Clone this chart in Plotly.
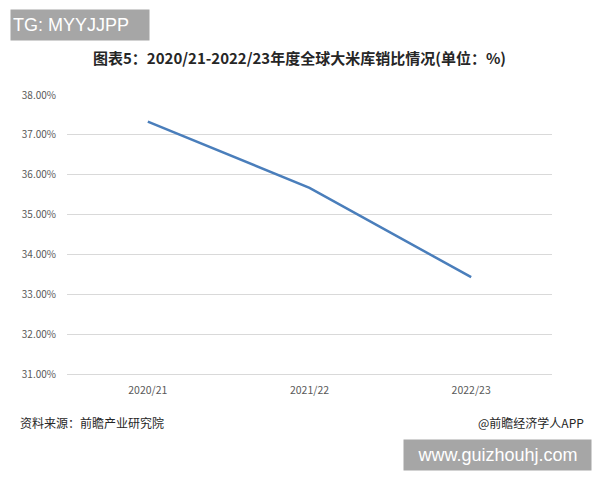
import plotly.graph_objects as go

categories = ["2020/21", "2021/22", "2022/23"]
ratio_values = [37.33, 35.67, 33.43]
y_tick_values = [31, 32, 33, 34, 35, 36, 37, 38]
y_tick_labels = ["31.00%", "32.00%", "33.00%", "34.00%", "35.00%", "36.00%", "37.00%", "38.00%"]

# page body has an 8px margin; work in window pixels and convert
OFF = 8
W, H = 600 - OFF, 480 - OFF
l, r, t, b = 67 - OFF, 48, 95 - OFF, 106
pw, ph = W - l - r, H - t - b


def px(xp):
    return (xp - OFF - l) / pw


def py(yp):
    return (H - b - (yp - OFF)) / ph


fig = go.Figure()
fig.add_trace(go.Scatter(
    x=categories, y=ratio_values, mode="lines",
    line=dict(color="#4a7ebb", width=2.5),
    showlegend=False,
))

fig.update_layout(
    width=W, height=H,
    margin=dict(l=l, r=r, t=t, b=b),
    paper_bgcolor="white", plot_bgcolor="white",
    font=dict(family="Noto Sans CJK SC, sans-serif", color="#595959"),
    xaxis=dict(
        type="category", range=[-0.5, 2.5],
        showgrid=False, showline=True, linecolor="#d9d9d9", linewidth=1,
        ticks="outside", ticklen=6, tickcolor="rgba(0,0,0,0)",
        tickfont=dict(size=10.5, color="#595959"),
    ),
    yaxis=dict(
        range=[31, 38], tickvals=y_tick_values, ticktext=y_tick_labels,
        showgrid=True, gridcolor="#d9d9d9", gridwidth=1,
        zeroline=False, showline=False,
        ticks="outside", ticklen=8, tickcolor="rgba(0,0,0,0)",
        tickfont=dict(size=10, color="#595959"),
    ),
)

fig.add_annotation(text="<b>图表5：2020/21-2022/23年度全球大米库销比情况(单位：%)</b>",
                   x=px(299), y=py(58), xref="paper", yref="paper", showarrow=False,
                   font=dict(size=15, color="#262626"), xanchor="center", yanchor="middle")
fig.add_annotation(text="资料来源：前瞻产业研究院",
                   x=px(18), y=py(422), xref="paper", yref="paper", showarrow=False,
                   font=dict(size=12, color="#262626"), xanchor="left", yanchor="middle")
fig.add_annotation(text="@前瞻经济学人APP",
                   x=px(586), y=py(422), xref="paper", yref="paper", showarrow=False,
                   font=dict(size=12, color="#262626"), xanchor="right", yanchor="middle")
fig.add_annotation(text="TG: MYYJJPP",
                   x=px(10), y=py(25), xref="paper", yref="paper", showarrow=False,
                   font=dict(size=18, color="white", family="Liberation Sans, Arial"),
                   xanchor="left", yanchor="middle",
                   bgcolor="#a6a6a6", width=134, height=26, align="left", borderpad=2)
fig.add_annotation(text="www.guizhouhj.com",
                   x=px(403), y=py(455), xref="paper", yref="paper", showarrow=False,
                   font=dict(size=18, color="white", family="Liberation Sans, Arial"),
                   xanchor="left", yanchor="middle",
                   bgcolor="#a6a6a6", width=183, height=26, align="center", borderpad=2)

fig.write_html("out.html")
